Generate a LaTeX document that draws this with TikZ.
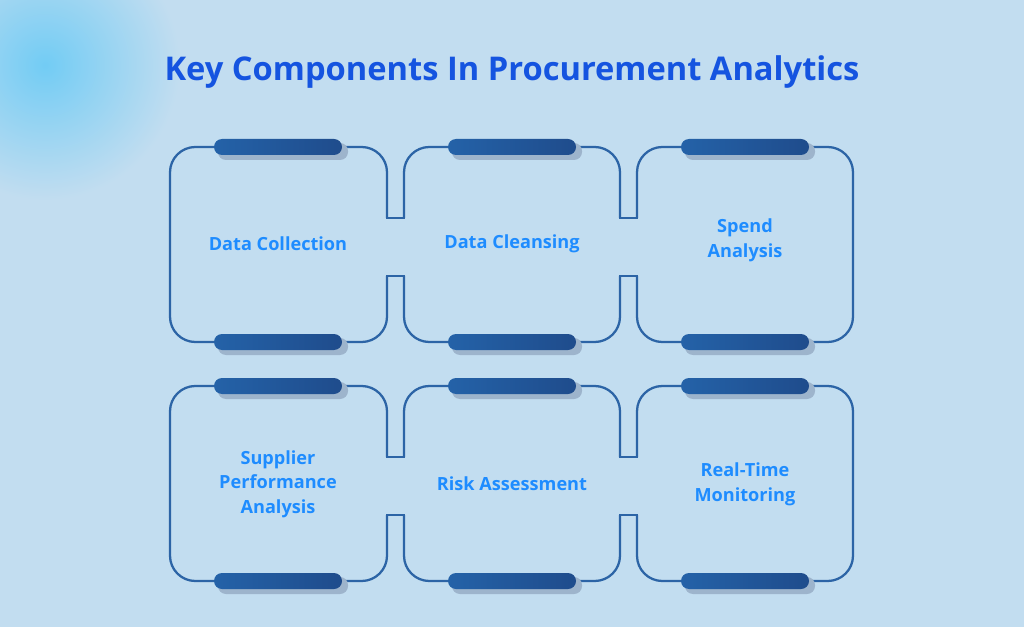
\documentclass[tikz,border=0pt]{standalone}
\usepackage{fontspec}
\setmainfont{Open Sans}
\definecolor{bgblue}{HTML}{C2DDF0}
\definecolor{glowblue}{HTML}{72CCF4}
\definecolor{frameblue}{HTML}{2C64A6}
\definecolor{barblue}{HTML}{2462A8}
\definecolor{bardark}{HTML}{1F4C8C}
\definecolor{barshadow}{HTML}{9DB4CC}
\definecolor{labelblue}{HTML}{1E8CFF}
\definecolor{titleblue}{HTML}{1554E0}
\tikzset{
  frame/.style={line width=1.7pt,frameblue,rounded corners=19pt},
  notch/.style={line width=1.7pt,frameblue},
  label/.style={labelblue,font=\bfseries\fontsize{13.6}{18.5}\selectfont,align=center},
}

\begin{document}
\begin{tikzpicture}[x=0.75pt,y=-0.75pt]

    % background and glow
    \fill[bgblue] (0,0) rectangle (1024,627);
    \useasboundingbox (0,0) rectangle (1024,627);
    \shade[inner color=glowblue,outer color=bgblue] (45,65) circle (135);

    \node[titleblue,font=\bfseries\fontsize{24.5}{28}\selectfont] (title) at (512,72) {Key Components In Procurement Analytics};

    % two rows of frames
    \foreach \T/\B/\a/\b/\r in {147/342/218/276/1,386/581/457/515/2}{
      \draw[frame] (387,\a) -- (387,\T) -- (170,\T) -- (170,\B) -- (387,\B) -- (387,\b);
      \draw[frame] (404,\a) -- (404,\T) -- (620,\T) -- (620,\a);
      \draw[frame] (404,\b) -- (404,\B) -- (620,\B) -- (620,\b);
      \draw[frame] (637,\a) -- (637,\T) -- (853,\T) -- (853,\B) -- (637,\B) -- (637,\b);
      \draw[notch] (386,\a) -- (405,\a);
      \draw[notch] (619,\a) -- (638,\a);
      \draw[notch] (386,\b) -- (405,\b);
      \draw[notch] (619,\b) -- (638,\b);
      \foreach \x in {278,512,745}{
        \foreach \y in {\T,\B}{
          \fill[barshadow,rounded corners=6pt] (\x-60,\y-4) rectangle (\x+70,\y+13);
          \shade[left color=barblue,right color=bardark,rounded corners=6pt] (\x-64,\y-8) rectangle (\x+64,\y+8);
        }
      }
    }

    % labels
    \node[label] (collection) at (278,244) {Data Collection};
    \node[label] (cleansing) at (512,244) {Data Cleansing};
    \node[label] (spend) at (745,240) {Spend\\Analysis};
    \node[label] (supplier) at (278,484) {Supplier\\Performance\\Analysis};
    \node[label] (risk) at (512,484) {Risk Assessment};
    \node[label] (monitoring) at (745,484) {Real-Time\\Monitoring};
\end{tikzpicture}
\end{document}
